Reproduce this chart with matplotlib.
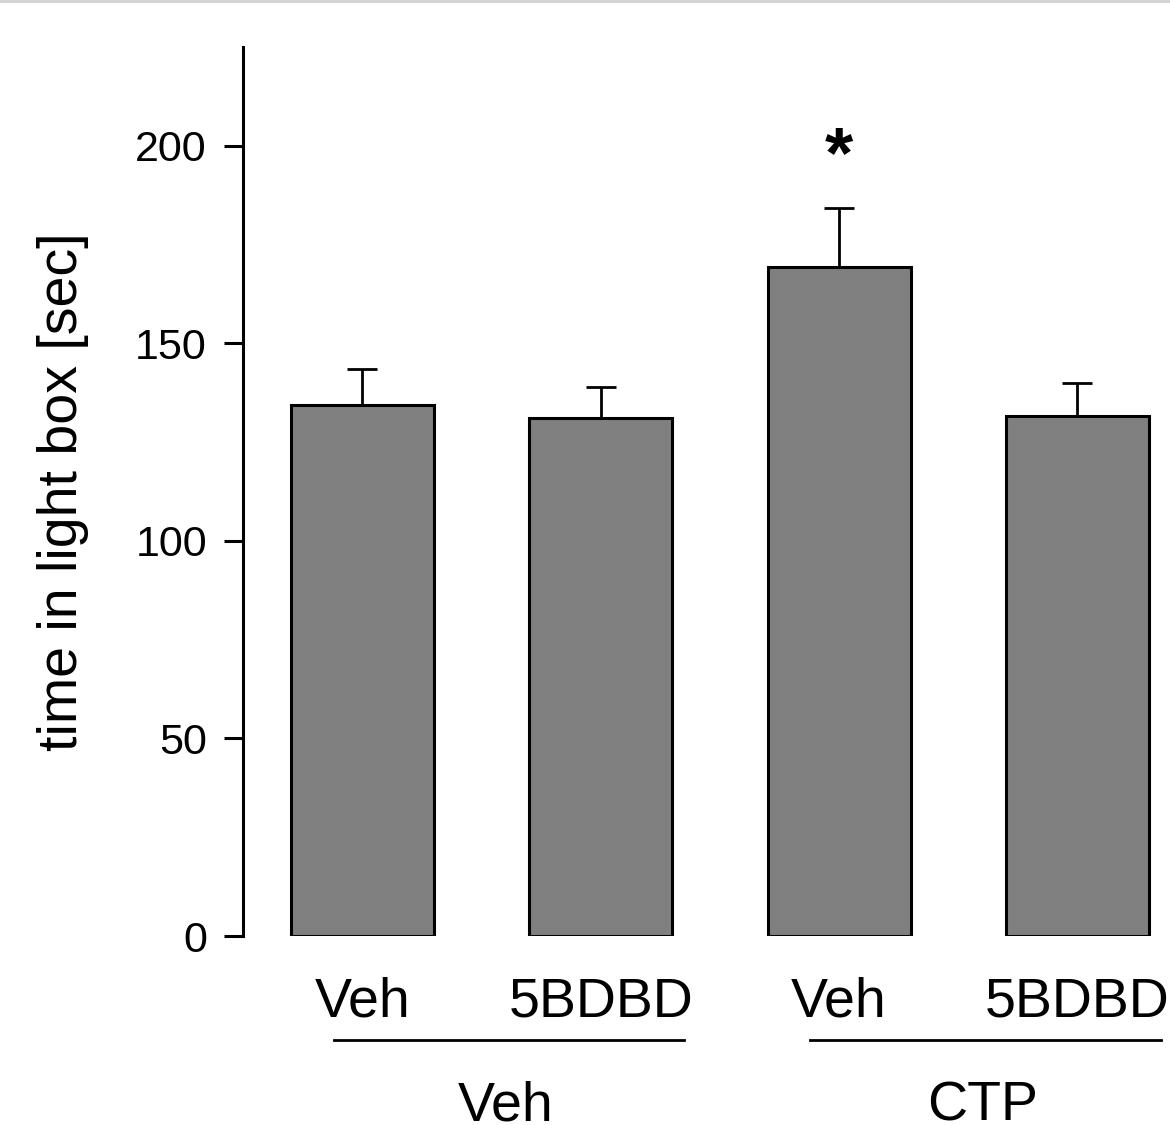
import numpy as np
import matplotlib.pyplot as plt
from matplotlib.lines import Line2D

plt.rcParams['font.family'] = ['Liberation Sans', 'DejaVu Sans']

# data
treatments = ['Veh', '5BDBD', 'Veh', '5BDBD']
groups = ['Veh', 'CTP']
means = [134.5, 131.0, 169.3, 131.6]
sems = [9.0, 8.0, 15.0, 8.4]
signif = ['', '', '*', '']

x = np.arange(len(treatments))

fig = plt.figure(figsize=(11.7, 11.25), dpi=100)
ax = fig.add_axes([0.2077, 0.168, 1 - 0.2077, 0.7902])

ax.bar(x, means, width=0.6, color='#808080', edgecolor='black', linewidth=2.2, zorder=2)
ax.errorbar(x, means, yerr=[np.zeros(len(sems)), sems], fmt='none', ecolor='black',
            elinewidth=2.0, capsize=11, capthick=2.0, zorder=1)

for xi, m, s, lab in zip(x, means, sems, signif):
    if lab:
        ax.text(xi, 192, lab, ha='center', va='baseline', fontsize=52, fontweight='bold')

ax.set_xlim(-0.5, 3.388)
ax.set_ylim(0, 225)
ax.set_yticks([0, 50, 100, 150, 200])
ax.tick_params(axis='y', labelsize=31, width=2.2, length=14, pad=12)
ax.set_xticks(x)
ax.set_xticklabels(treatments, fontsize=40)
ax.tick_params(axis='x', length=0, pad=29)

for side in ['top', 'right', 'bottom']:
    ax.spines[side].set_visible(False)
ax.spines['left'].set_linewidth(2.2)
ax.spines['left'].set_bounds(0, 225)

ax.set_ylabel('time in light box [sec]', fontsize=40, labelpad=33)

# group underlines and labels
trans = ax.get_xaxis_transform()
for gi, g in enumerate(groups):
    start = gi * 2
    ax.plot([start - 0.12, start + 1.35], [-0.117, -0.117], color='black', lw=2.0,
            transform=trans, clip_on=False)
    ax.text(start + 0.6, -0.208, g, ha='center', va='baseline', fontsize=40,
            transform=trans)

fig.add_artist(Line2D([0, 1], [0.999, 0.999], color='#d0d0d0', lw=2, transform=fig.transFigure))

fig.savefig('out.png', dpi=100)
